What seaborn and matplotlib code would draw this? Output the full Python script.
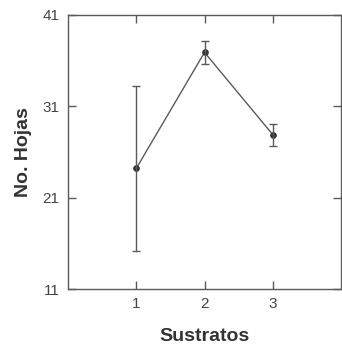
import matplotlib
matplotlib.use('Agg')
import matplotlib.pyplot as plt
import seaborn as sns
import pandas as pd

# data
sustratos = [1, 2, 3]
hojas_media = [24.2, 36.9, 27.9]
hojas_error = [9.0, 1.3, 1.2]

df = pd.DataFrame({'Sustratos': sustratos, 'Hojas': hojas_media, 'Err': hojas_error})

sns.set_style('ticks')
plt.rcParams['font.family'] = ['Liberation Sans', 'DejaVu Sans']

fig = plt.figure(figsize=(3.42, 3.47), dpi=100)
ax = fig.add_axes([0.199, 0.167, 0.798, 0.790])

gray = '#5a5a5a'
sns.lineplot(data=df, x='Sustratos', y='Hojas', ax=ax, color=gray, linewidth=1.0,
             marker='o', markersize=4, markeredgecolor='#333333', markerfacecolor='#333333')
ax.errorbar(df['Sustratos'], df['Hojas'], yerr=df['Err'], fmt='none',
            ecolor=gray, elinewidth=1.0, capsize=3, capthick=1.0)

ax.set_xlim(0, 4)
ax.set_ylim(11, 41)
ax.set_xticks(sustratos)
ax.set_yticks([11, 21, 31, 41])
ax.tick_params(direction='in', top=True, right=True, length=6, width=1.0,
               color=gray, labelsize=11, labelcolor='#444444', pad=6)
for s in ax.spines.values():
    s.set_color(gray)
    s.set_linewidth(1.0)

ax.set_xlabel('Sustratos', fontsize=14, fontweight='bold', color='#333333', labelpad=12)
ax.set_ylabel('No. Hojas', fontsize=14, fontweight='bold', color='#333333', labelpad=8)

fig.savefig('out.png', dpi=100)
